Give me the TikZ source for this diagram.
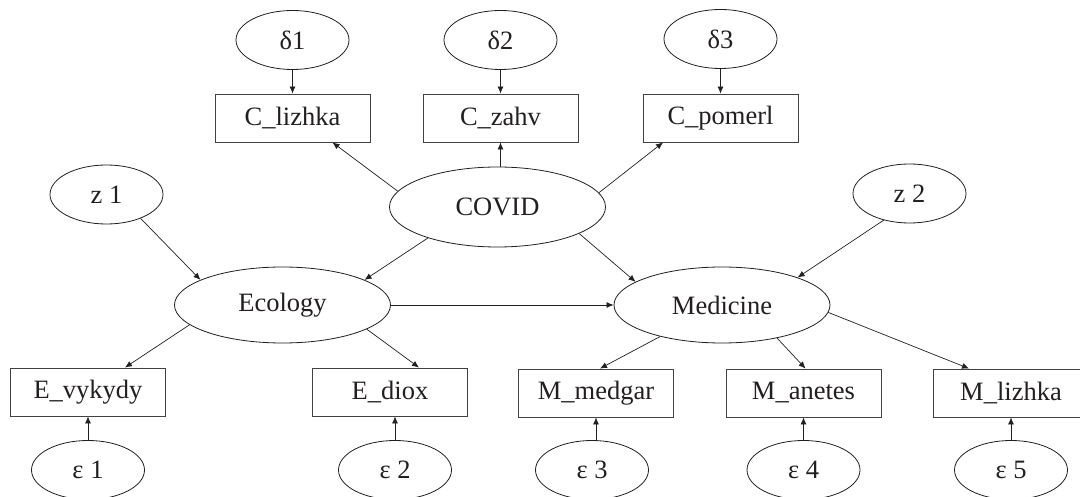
\documentclass[tikz,border=0pt]{standalone}
\usepackage{fontspec}
\setmainfont{Liberation Serif}
\usetikzlibrary{shapes.geometric,arrows.meta}
\definecolor{ink}{HTML}{231F20}
\begin{document}
\begin{tikzpicture}[x=1pt,y=-1pt,
  every node/.style={font=\fontsize{26.5}{31}\selectfont, text=ink},
  small/.style={draw=ink, ellipse, line width=0.8pt, inner sep=0pt, minimum width=113pt, minimum height=59pt},
  latent/.style={draw=ink, ellipse, line width=0.8pt, inner sep=0pt, minimum width=216pt, minimum height=76pt},
  obs/.style={draw=ink!85, rectangle, line width=0.9pt, inner sep=0pt, minimum width=155pt, minimum height=48pt},
  arr/.style={draw=ink, line width=0.7pt, -{Latex[length=7pt,width=6pt]}}]
\useasboundingbox (0,0) rectangle (1080,497);
% error terms top
\node[small] (d1) at (292.5,40) {δ1};
\node[small] (d2) at (500.5,40) {δ2};
\node[small] (d3) at (720.5,39) {δ3};
% top indicators
\node[obs] (Cl) at (292.5,118) {C\_lizhka};
\node[obs] (Cz) at (500.5,118) {C\_zahv};
\node[obs] (Cp) at (720.5,118) {C\_pomerl};
% disturbances
\node[small] (z1) at (106.5,194.5) {z 1};
\node[small] (z2) at (909.5,193.5) {z 2};
% latent
\node[latent, minimum height=80pt] (COVID) at (497.5,207) {COVID};
\node[latent] (Eco) at (282.5,305) {Ecology};
\node[latent] (Med) at (722,305) {Medicine};
% bottom indicators
\node[obs] (Ev) at (88,392) {E\_vykydy};
\node[obs] (Ed) at (390,392) {E\_diox};
\node[obs] (Mm) at (596,393) {M\_medgar};
\node[obs] (Ma) at (803.5,393) {M\_anetes};
\node[obs] (Ml) at (1011,393) {M\_lizhka};
% bottom errors
\node[small] (e1) at (88,470) {ε 1};
\node[small] (e2) at (395,470) {ε 2};
\node[small] (e3) at (592,470) {ε 3};
\node[small] (e4) at (803.5,470) {ε 4};
\node[small] (e5) at (1011,470) {ε 5};
% connectors
\draw[arr] (d1) -- (Cl);
\draw[arr] (d2) -- (Cz);
\draw[arr] (d3.south) -- (d3.south |- Cp.north);
\draw[arr] (COVID.171) -- ([xshift=40pt]Cl.south);
\draw[arr] (COVID.north -| Cz.south) -- (Cz.south);
\draw[arr] (COVID.8) -- ([xshift=-57.5pt]Cp.south);
\draw[arr] (z1.-35) -- (Eco.163);
\draw[arr] (COVID.204) -- (Eco.17);
\draw[arr] (COVID.-18) -- (Med.165);
\draw[arr] (z2.226) -- (Med.20);
\draw[arr] (Eco.east) -- (Med.west);
\draw[arr] (Eco.192) -- ([xshift=37pt]Ev.north);
\draw[arr] (Eco.-16) -- ([xshift=29pt]Ed.north);
\draw[arr] (Med.207) -- ([xshift=4pt]Mm.north);
\draw[arr] (Med.-31) -- ([xshift=2pt]Ma.north);
\draw[arr] (Med.-4) -- ([xshift=-42pt]Ml.north);
\draw[arr] (e1) -- (Ev);
\draw[arr] (e2.north) -- (e2.north |- Ed.south);
\draw[arr] (Mm.south |- e3.north) -- (Mm.south);
\draw[arr] (e4) -- (Ma);
\draw[arr] (e5) -- (Ml);
\end{tikzpicture}
\end{document}
